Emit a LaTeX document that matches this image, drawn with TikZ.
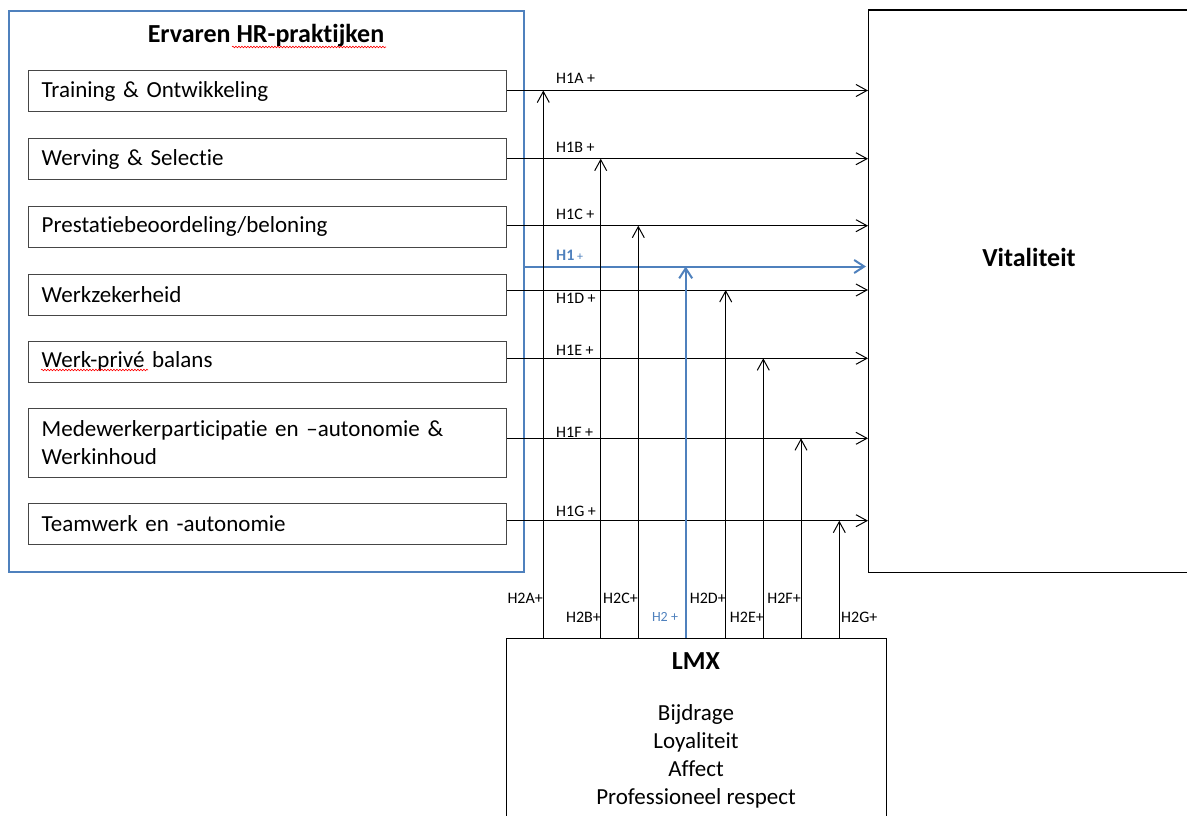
\documentclass[tikz,border=0pt]{standalone}
\usepackage{fontspec}
\setmainfont{Carlito}[Ligatures={NoCommon}]
\usetikzlibrary{arrows.meta,decorations.pathmorphing}

\definecolor{hrblue}{RGB}{79,129,189}
\definecolor{boxgray}{RGB}{70,70,70}

\tikzset{
  practice/.style={draw=boxgray, line width=1.4pt, anchor=north west,
    minimum width=478pt, minimum height=41pt, text width=452pt,
    inner xsep=13pt, align=left, font=\fontsize{23}{28}\selectfont},
  bigtitle/.style={font=\bfseries\fontsize{26}{30}\selectfont},
  bodytext/.style={font=\fontsize{23}{28}\selectfont, align=center},
  hlabel/.style={font=\fontsize{16}{18}\selectfont, inner sep=0pt},
  hyp/.style={line width=1pt, -{Straight Barb[length=11pt,width=12pt,line width=1pt]}},
  mainhyp/.style={hrblue, line width=2pt, -{Straight Barb[length=10pt,width=13pt,line width=2pt]}},
  spell/.style={red, line width=0.6pt, decorate,
    decoration={snake, segment length=3pt, amplitude=0.8pt}}
}

\begin{document}
\begin{tikzpicture}[x=1pt,y=-1pt]
  \useasboundingbox (0,0) rectangle (1187,816);
  \clip (0,0) rectangle (1187,816);

  % HR practices
  \node[draw=hrblue, line width=2pt, anchor=north west, minimum width=515pt,
        minimum height=561pt, inner sep=0pt] (hr) at (8,10) {};
  \node[bigtitle] (title) at (266,36) {Ervaren HR-praktijken};
  \draw[spell] (232,47) -- (386,47);

  \node[practice] (to) at (28,70) {Training \& Ontwikkeling};
  \node[practice] (ws) at (28,138) {Werving \& Selectie};
  \node[practice] (pb) at (28,205.5) {Prestatiebeoordeling/beloning};
  \node[practice] (wz) at (28,273.5) {Werkzekerheid};
  \node[practice] (wp) at (28,340.5) {Werk-privé balans};
  \node[practice, minimum height=69pt] (mp) at (28,407.5) {Medewerkerparticipatie en –autonomie \&\\Werkinhoud};
  \node[practice] (tw) at (28,502.5) {Teamwerk en -autonomie};
  \draw[spell] (41,370) -- (148,370);

  % outcome and moderator
  \node[draw, line width=1.2pt, anchor=north west, minimum width=340pt,
        minimum height=562pt, inner sep=0pt] (vit) at (868,9.5) {};
  \node[bigtitle] (vitlbl) at (1029,257) {Vitaliteit};

  \node[draw, line width=1.2pt, anchor=north west, minimum width=380pt,
        minimum height=200pt, inner sep=0pt] (lmx) at (506,637.5) {};
  \node[bigtitle] (lmxlbl) at (696,661) {LMX};
  \node[bodytext] (dims) at (696,756) {Bijdrage\\Loyaliteit\\Affect\\Professioneel respect};

  % H1 paths
  \coordinate (y1) at (0,90.5);
  \coordinate (y2) at (0,158.7);
  \coordinate (y3) at (0,225.7);
  \coordinate (y0) at (0,266.5);
  \coordinate (y4) at (0,290);
  \coordinate (y5) at (0,358.3);
  \coordinate (y6) at (0,438.3);
  \coordinate (y7) at (0,520.7);

  \draw[hyp] (to.east |- y1) -- (vit.west |- y1);
  \draw[hyp] (ws.east |- y2) -- (vit.west |- y2);
  \draw[hyp] (pb.east |- y3) -- (vit.west |- y3);
  \draw[hyp] (wz.east |- y4) -- (vit.west |- y4);
  \draw[hyp] (wp.east |- y5) -- (vit.west |- y5);
  \draw[hyp] (mp.east |- y6) -- (vit.west |- y6);
  \draw[hyp] (tw.east |- y7) -- (vit.west |- y7);
  \draw[mainhyp] (hr.east |- y0) -- ([xshift=-2pt]vit.west |- y0);

  \node[hlabel, anchor=base west] (h1a) at (556,84) {H1A +};
  \node[hlabel, anchor=base west] (h1b) at (556,152) {H1B +};
  \node[hlabel, anchor=base west] (h1c) at (556,219) {H1C +};
  \node[hlabel, anchor=base west, text=hrblue] (h1) at (556,260) {\textbf{H1}\,{\fontsize{12}{14}\selectfont +}};
  \node[hlabel, anchor=base west] (h1d) at (556,303.5) {H1D +};
  \node[hlabel, anchor=base west] (h1e) at (556,355) {H1E +};
  \node[hlabel, anchor=base west] (h1f) at (556,437) {H1F +};
  \node[hlabel, anchor=base west] (h1g) at (556,516) {H1G +};

  % H2 paths
  \coordinate (xa) at (543.3,0);
  \coordinate (xb) at (600.7,0);
  \coordinate (xc) at (638.3,0);
  \coordinate (x0) at (685.7,0);
  \coordinate (xd) at (725.7,0);
  \coordinate (xe) at (763.3,0);
  \coordinate (xf) at (801,0);
  \coordinate (xg) at (839.3,0);

  \draw[hyp] (xa |- lmx.north) -- (xa |- y1);
  \draw[hyp] (xb |- lmx.north) -- (xb |- y2);
  \draw[hyp] (xc |- lmx.north) -- (xc |- y3);
  \draw[hyp] (xd |- lmx.north) -- (xd |- y4);
  \draw[hyp] (xe |- lmx.north) -- (xe |- y5);
  \draw[hyp] (xf |- lmx.north) -- (xf |- y6);
  \draw[hyp] (xg |- lmx.north) -- (xg |- y7);
  \draw[mainhyp] (x0 |- lmx.north) -- (x0 |- y0);

  \node[hlabel, anchor=base east] (h2a) at (543,603.5) {H2A+};
  \node[hlabel, anchor=base east] (h2b) at (601,622.5) {H2B+};
  \node[hlabel, anchor=base east] (h2c) at (638,603.5) {H2C+};
  \node[hlabel, anchor=base, text=hrblue, font=\fontsize{14}{16}\selectfont] (h2) at (665,621) {H2 +};
  \node[hlabel, anchor=base east] (h2d) at (726,603.5) {H2D+};
  \node[hlabel, anchor=base east] (h2e) at (764,622.5) {H2E+};
  \node[hlabel, anchor=base east] (h2f) at (801,603.5) {H2F+};
  \node[hlabel, anchor=base west] (h2g) at (841,622.5) {H2G+};
\end{tikzpicture}
\end{document}
